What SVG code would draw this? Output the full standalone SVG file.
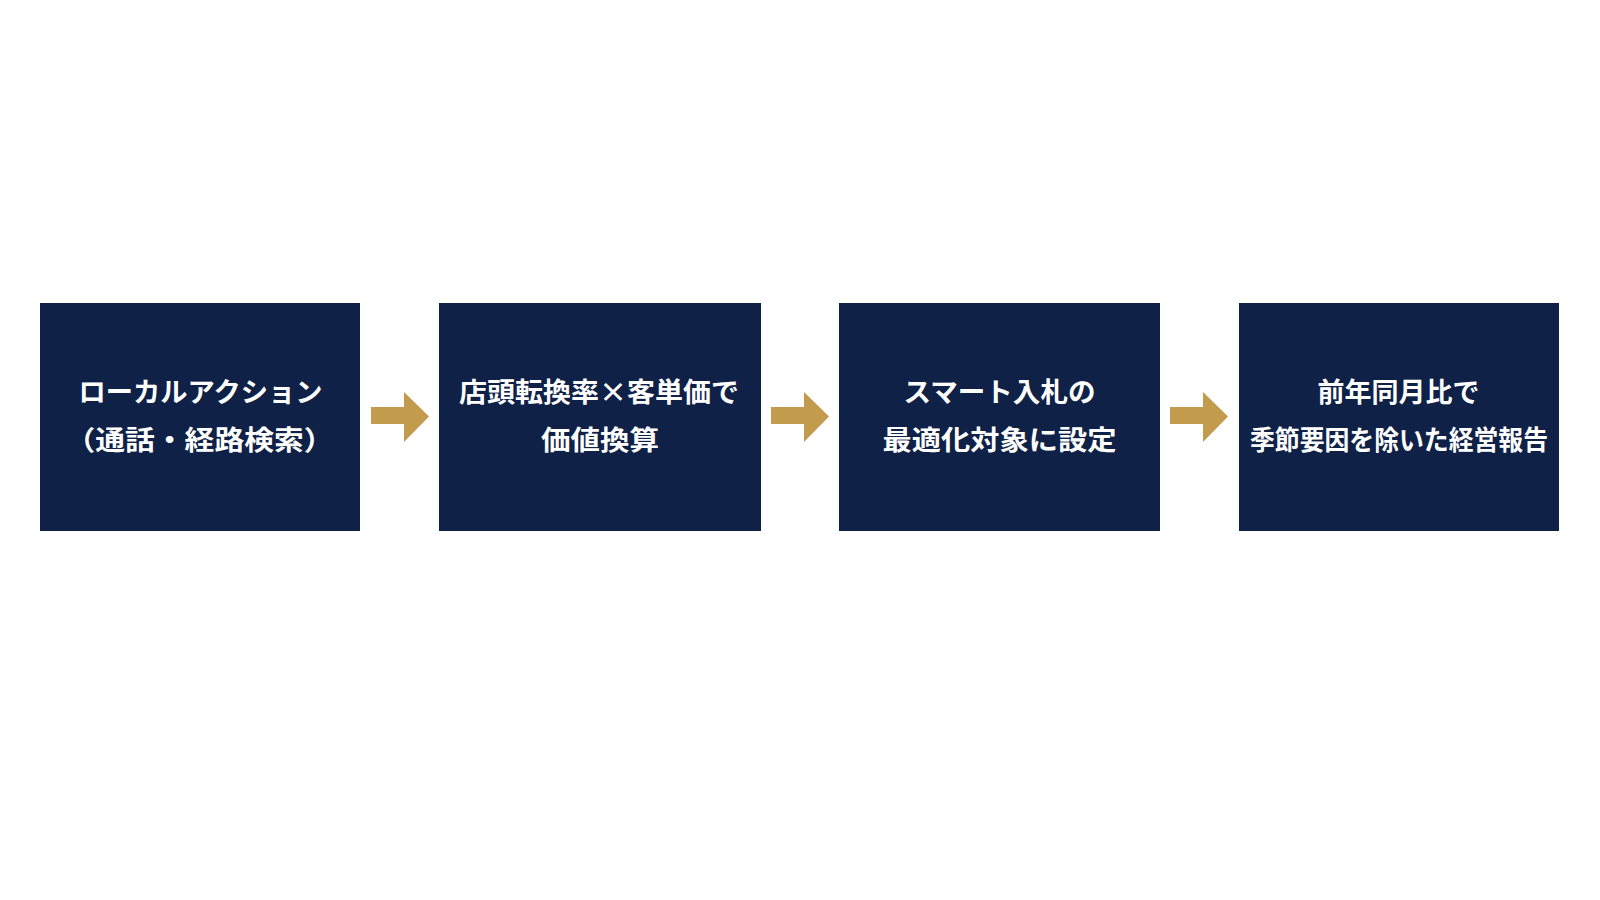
<svg xmlns="http://www.w3.org/2000/svg" width="1600" height="900" viewBox="0 0 1600 900">
<style>
.box{fill:#0f2147;}
.lbl{font-family:"Noto Sans CJK JP","Noto Sans",sans-serif;font-weight:700;font-size:27px;fill:#ffffff;text-anchor:middle;}
.arr{fill:#c29b4d;}
</style>
<rect width="1600" height="900" fill="#ffffff"/>
<g id="connectors">
<polygon class="arr" points="371,407 404,407 404,392 429,416.5 404,442 404,424 371,424"/>
<polygon class="arr" points="771,407 804,407 804,392 829,416.5 804,442 804,424 771,424"/>
<polygon class="arr" points="1170,407 1203,407 1203,392 1228,416.5 1203,442 1203,424 1170,424"/>
</g>
<g id="node1">
<rect class="box" x="40" y="303" width="320" height="228"/>
<text class="lbl" x="200.5" y="402" textLength="244" lengthAdjust="spacingAndGlyphs">ローカルアクション</text>
<text class="lbl" x="199.5" y="450" textLength="268" lengthAdjust="spacingAndGlyphs">（通話・経路検索）</text>
</g>
<g id="node2">
<rect class="box" x="439" y="303" width="322" height="228"/>
<text class="lbl" x="599" y="402" textLength="280" lengthAdjust="spacingAndGlyphs">店頭転換率×客単価で</text>
<text class="lbl" x="600" y="450" textLength="118" lengthAdjust="spacingAndGlyphs">価値換算</text>
</g>
<g id="node3">
<rect class="box" x="839" y="303" width="321" height="228"/>
<text class="lbl" x="999.5" y="402" textLength="192" lengthAdjust="spacingAndGlyphs">スマート入札の</text>
<text class="lbl" x="999.5" y="450" textLength="234" lengthAdjust="spacingAndGlyphs">最適化対象に設定</text>
</g>
<g id="node4">
<rect class="box" x="1239" y="303" width="320" height="228"/>
<text class="lbl" x="1398.5" y="402" textLength="162" lengthAdjust="spacingAndGlyphs">前年同月比で</text>
<text class="lbl" x="1399" y="450" textLength="298" lengthAdjust="spacingAndGlyphs">季節要因を除いた経営報告</text>
</g>
</svg>
